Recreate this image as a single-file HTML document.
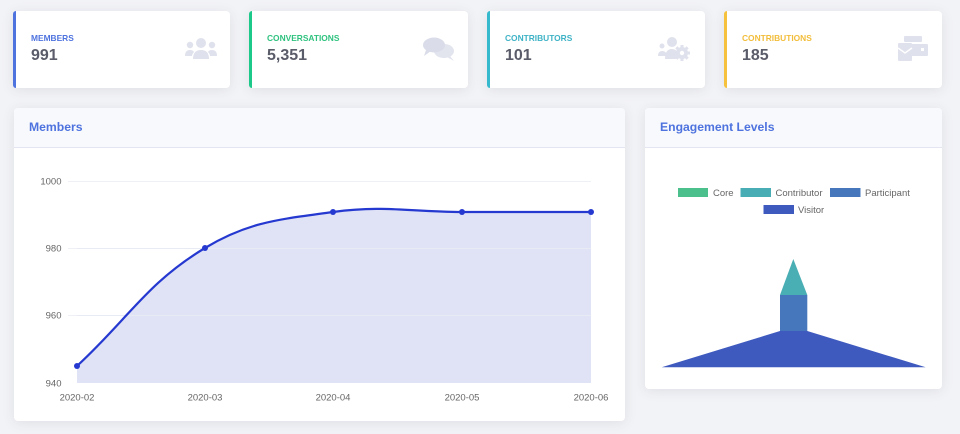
<!DOCTYPE html>
<html>
<head>
<meta charset="utf-8">
<style>
  html,body{margin:0;padding:0;}
  body{width:960px;height:434px;background:#f2f3f7;position:relative;overflow:hidden;font-family:"Liberation Sans",sans-serif;}
  .card{position:absolute;background:#fff;border-radius:4px;box-shadow:0 2px 12px rgba(58,59,69,0.10);}
  .stat{top:11px;height:77px;}
  .stat .bar{position:absolute;left:0;top:0;bottom:0;width:3px;border-radius:4px 0 0 4px;}
  .stat .lbl{position:absolute;left:18px;top:22px;font-size:8.4px;font-weight:bold;line-height:10px;white-space:nowrap;}
  .stat .val{position:absolute;left:18px;top:36px;font-size:16px;font-weight:bold;color:#5a5c69;line-height:18px;}
  .stat svg{position:absolute;}
  .panel .hdr{position:absolute;left:0;top:0;right:0;height:39px;background:#f8f9fc;border-bottom:1px solid #e3e6f0;border-radius:4px 4px 0 0;}
  .panel .ttl{position:absolute;left:15px;top:12px;font-size:12.2px;font-weight:bold;color:#4e73df;line-height:14px;white-space:nowrap;}
</style>
</head>
<body>

<!-- Stat cards -->
<div class="card stat" style="left:13px;width:217px;">
  <div class="bar" style="background:#4e73df"></div>
  <div class="lbl" style="color:#4e73df">MEMBERS</div>
  <div class="val">991</div>
  <svg style="left:172px;top:26px" width="32" height="24" viewBox="0 0 32 24">
    <g fill="#dfe1ec">
      <circle cx="16" cy="6" r="5"/>
      <circle cx="5" cy="8" r="3.2"/>
      <circle cx="27" cy="8" r="3.2"/>
      <path d="M8 22 Q8 13 16 13 Q24 13 24 22 Z"/>
      <path d="M0 19 Q0 13 5 13 Q8 13 9 15 Q7 17 7 19 Z"/>
      <path d="M32 19 Q32 13 27 13 Q24 13 23 15 Q25 17 25 19 Z"/>
    </g>
  </svg>
</div>

<div class="card stat" style="left:249px;width:219px;">
  <div class="bar" style="background:#1cc88a"></div>
  <div class="lbl" style="color:#2fc27f">CONVERSATIONS</div>
  <div class="val">5,351</div>
  <svg style="left:174px;top:26px" width="32" height="24" viewBox="0 0 32 24">
    <g fill="#e2e4ee">
      <ellipse cx="21" cy="14" rx="10" ry="7" />
      <path d="M27 19 L31 24 L24 20 Z"/>
    </g>
    <g fill="#dadde9">
      <ellipse cx="11" cy="8" rx="11" ry="7.5"/>
      <path d="M3 13 L1 19 L8 14 Z"/>
    </g>
  </svg>
</div>

<div class="card stat" style="left:487px;width:218px;">
  <div class="bar" style="background:#36b9cc"></div>
  <div class="lbl" style="color:#3fb3c6">CONTRIBUTORS</div>
  <div class="val">101</div>
  <svg style="left:171px;top:26px" width="32" height="24" viewBox="0 0 32 24">
    <g fill="#dfe1ec">
      <circle cx="4" cy="9" r="2.5"/>
      <circle cx="14" cy="5" r="5"/>
      <path d="M0 19 Q0 14 4 14 Q7 14 8 16 L8 19 Z"/>
      <path d="M7 22 Q7 12 14 12 Q18 12 19 15 L19 22 Z"/>
      <circle cx="24" cy="16" r="6"/>
      <rect x="22.5" y="8" width="3" height="16"/>
      <rect x="16" y="14.5" width="16" height="3"/>
      <rect x="22.5" y="8" width="3" height="16" transform="rotate(45 24 16)"/>
      <rect x="22.5" y="8" width="3" height="16" transform="rotate(-45 24 16)"/>
    </g>
    <circle cx="24" cy="16" r="2.2" fill="#fff"/>
  </svg>
</div>

<div class="card stat" style="left:724px;width:218px;">
  <div class="bar" style="background:#f6c23e"></div>
  <div class="lbl" style="color:#f2bd3a">CONTRIBUTIONS</div>
  <div class="val">185</div>
  <svg style="left:174px;top:25px" width="30" height="26" viewBox="0 0 30 26">
    <g fill="#dfe1ec">
      <rect x="6" y="0" width="18" height="6" rx="1"/>
      <rect x="12" y="8" width="18" height="12" rx="1"/>
      <rect x="0" y="7" width="14" height="18" rx="1"/>
    </g>
    <rect x="23" y="12" width="3" height="3" fill="#fff"/>
    <path d="M0 12 L7 17 L14 12" stroke="#fff" stroke-width="1.5" fill="none"/>
  </svg>
</div>

<!-- Members panel -->
<div class="card panel" style="left:14px;top:108px;width:611px;height:313px;">
  <div class="hdr"></div>
  <div class="ttl">Members</div>
</div>

<!-- Engagement panel -->
<div class="card panel" style="left:645px;top:108px;width:297px;height:281px;">
  <div class="hdr"></div>
  <div class="ttl">Engagement Levels</div>
</div>

<svg style="position:absolute;left:0;top:0" width="960" height="434" viewBox="0 0 960 434">
  <!-- grid -->
  <g stroke="#eef0f5" stroke-width="1">
    <line x1="68" y1="181.5" x2="591" y2="181.5"/>
    <line x1="68" y1="248.5" x2="591" y2="248.5"/>
    <line x1="68" y1="315.5" x2="591" y2="315.5"/>
  </g>
  <!-- area -->
  <path d="M77,366 C128.2,318.8 146.9,282.9 205,248 C249.3,221.3 280.8,219.3 333,212 C383.6,204.9 410.4,212 462,212 C513.6,212 539.4,212 591,212 L591,383 L77,383 Z" fill="#e0e3f6"/>
  <g stroke="#e8eaf4" stroke-width="1">
    <line x1="77" y1="248.5" x2="591" y2="248.5"/>
    <line x1="77" y1="315.5" x2="591" y2="315.5"/>
  </g>
  <path d="M77,366 C128.2,318.8 146.9,282.9 205,248 C249.3,221.3 280.8,219.3 333,212 C383.6,204.9 410.4,212 462,212 C513.6,212 539.4,212 591,212" fill="none" stroke="#2539d0" stroke-width="2.2"/>
  <g fill="#2539d0">
    <circle cx="77" cy="366" r="3"/>
    <circle cx="205" cy="248" r="3"/>
    <circle cx="333" cy="212" r="3"/>
    <circle cx="462" cy="212" r="3"/>
    <circle cx="591" cy="212" r="3"/>
  </g>
  <!-- y labels -->
  <g font-family="Liberation Sans, sans-serif" font-size="9.5" fill="#666" text-anchor="end">
    <text x="61.5" y="184.5">1000</text>
    <text x="61.5" y="251.5">980</text>
    <text x="61.5" y="318.5">960</text>
    <text x="61.5" y="386.5">940</text>
  </g>
  <g font-family="Liberation Sans, sans-serif" font-size="9.5" fill="#666" text-anchor="middle">
    <text x="77" y="400.5">2020-02</text>
    <text x="205" y="400.5">2020-03</text>
    <text x="333" y="400.5">2020-04</text>
    <text x="462" y="400.5">2020-05</text>
    <text x="591" y="400.5">2020-06</text>
  </g>

  <!-- legend -->
  <rect x="678" y="188" width="30" height="9" fill="#4bbf8c"/>
  <rect x="740.5" y="188" width="30.5" height="9" fill="#49adb5"/>
  <rect x="830" y="188" width="30.5" height="9" fill="#4677bc"/>
  <rect x="763.5" y="205" width="30.5" height="9" fill="#3f5abf"/>
  <g font-family="Liberation Sans, sans-serif" font-size="9.5" fill="#666">
    <text x="713" y="196">Core</text>
    <text x="775.5" y="196">Contributor</text>
    <text x="865" y="196">Participant</text>
    <text x="798" y="213">Visitor</text>
  </g>

  <!-- funnel -->
  <polygon points="793.3,259 807.3,295 780,295" fill="#4aaeb5"/>
  <rect x="780" y="295" width="27.3" height="36" fill="#4677bc"/>
  <polygon points="780,331 807.3,331 925.7,367.3 661.7,367.3" fill="#3f5abf"/>
</svg>

</body>
</html>
